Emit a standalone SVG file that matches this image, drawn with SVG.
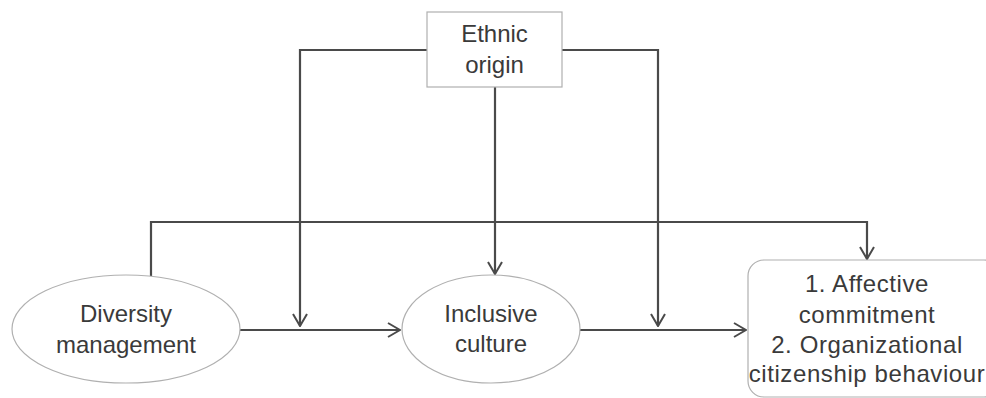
<svg xmlns="http://www.w3.org/2000/svg" width="986" height="398" viewBox="0 0 986 398">
<style>
.t{font-family:"Liberation Sans",Arial,sans-serif;font-size:24px;fill:#3a3a3a;text-anchor:middle}
.w{letter-spacing:0.6px}
.n{fill:#fff;stroke:#b0b0b0;stroke-width:1.2}
.c{fill:none;stroke:#4a4a4a;stroke-width:2.2}
</style>
<defs>
<marker id="a" viewBox="0 0 14 16" refX="13" refY="8" markerWidth="14" markerHeight="16" markerUnits="userSpaceOnUse" orient="auto">
<path d="M1,1 L13,8 L1,15" fill="none" stroke="#4a4a4a" stroke-width="2"/>
</marker>
</defs>
<g id="connectors">
<path class="c" d="M427,50 H300 V326" marker-end="url(#a)"/>
<path class="c" d="M562,50 H658 V326" marker-end="url(#a)"/>
<path class="c" d="M495,87 V274" marker-end="url(#a)"/>
<path class="c" d="M151,276 V222 H867 V259" marker-end="url(#a)"/>
<path class="c" d="M240,330 H400" marker-end="url(#a)"/>
<path class="c" d="M580,330 H746" marker-end="url(#a)"/>
</g>
<g id="ethnic">
<rect class="n" x="427" y="12" width="135" height="75"/>
<text class="t" x="494.5" y="42">Ethnic</text>
<text class="t" x="494.5" y="73">origin</text>
</g>
<g id="diversity">
<ellipse class="n" cx="126" cy="329" rx="114" ry="54"/>
<text class="t" x="126" y="322">Diversity</text>
<text class="t" x="126" y="353">management</text>
</g>
<g id="inclusive">
<ellipse class="n" cx="491" cy="329" rx="89" ry="54"/>
<text class="t" x="491" y="322">Inclusive</text>
<text class="t" x="491" y="352">culture</text>
</g>
<g id="outcomes">
<rect class="n" x="748" y="260" width="252" height="137" rx="16"/>
<text class="t w" x="867" y="292">1. Affective</text>
<text class="t w" x="867" y="323">commitment</text>
<text class="t w" x="867" y="353">2. Organizational</text>
<text class="t w" x="867" y="382">citizenship behaviour</text>
</g>
</svg>
